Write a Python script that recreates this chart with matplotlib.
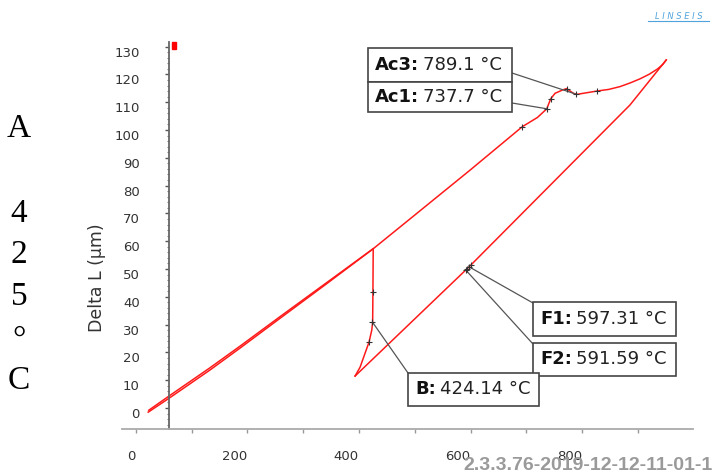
import numpy as np
import matplotlib.pyplot as plt
from matplotlib.patches import Rectangle
from matplotlib.lines import Line2D
from matplotlib.transforms import ScaledTranslation
from matplotlib.ticker import MultipleLocator, FuncFormatter

W, H = 714, 474

# dilatometer trace: temperature (°C) / delta L (µm)
heat_T = [22, 60, 133, 187, 260, 340, 425, 500, 600, 693, 720, 736.7, 743.8, 751.6, 765.3,
          772.4, 784.4, 790.5, 808.4, 826.4, 848, 868, 886, 904, 920, 935, 945, 951]
heat_L = [-1.5, 3.6, 13.7, 21.6, 32.5, 44.4, 57.2, 69.4, 85.7, 101.2, 104.5, 107.6, 111.2,
          113.2, 114.4, 114.9, 113.2, 112.8, 113.4, 114.0, 114.6, 115.6, 116.9, 118.4,
          120.0, 121.9, 123.6, 125.2]

cool_T = [951, 886, 597, 393]
cool_L = [125.2, 109.0, 50.7, 11.5]

iso_T = [393, 402, 418, 423, 424.5, 425, 425.5]
iso_L = [11.5, 14.7, 23.7, 28.1, 30.9, 41.7, 57.2]

final_T = [425.5, 340, 260, 187, 133, 60, 23]
final_L = [57.3, 44.8, 33.1, 22.3, 14.5, 4.4, -0.8]

# cursor marks along the trace
mark_T = [693, 737.7, 743.8, 772.4, 789.1, 826.4, 591.59, 594, 597.31, 600, 418, 424.14, 425]
mark_L = [101.2, 107.6, 111.2, 114.9, 112.9, 114.0, 49.6, 50.1, 50.8, 51.3, 23.7, 30.9, 41.7]

# evaluated points: (name, value text, T, L)
events = [
    ("Ac3", "789.1 °C", 789.1, 112.9),
    ("Ac1", "737.7 °C", 737.7, 107.6),
    ("F1", "597.31 °C", 597.31, 50.8),
    ("F2", "591.59 °C", 591.59, 49.6),
    ("B", "424.14 °C", 424.14, 30.9),
]
# label boxes in pixels: left, top, right, bottom, leader start x, y
boxes = {
    "Ac3": (368, 48, 512, 82, 512, 73),
    "Ac1": (368, 82, 512, 112, 512, 103),
    "F1": (533, 302, 676, 336, 533, 303),
    "F2": (533, 343, 676, 376, 533, 344),
    "B": (408, 373, 539, 406, 408, 373),
}

probe_T, probe_L = 65, 129.2

x_ticks = np.arange(0, 901, 100)
y_ticks = np.arange(0, 131, 10)
side_text = ["A", "4", "2", "5", "°", "C"]
side_base = [137, 222, 263, 305, 349, 389]


def fpos(x, y):
    return (x / W, 1 - y / H)


fig = plt.figure(figsize=(W / 100, H / 100), dpi=100)
ax = fig.add_axes([122 / W, 1 - 429 / H, (693 - 122) / W, (429 - 42) / H])

red = "#ff1a1a"
ax.plot(heat_T, heat_L, color=red, lw=1.1)
ax.plot(cool_T, cool_L, color=red, lw=1.1)
ax.plot(iso_T, iso_L, color=red, lw=1.1)
ax.plot(final_T, final_L, color=red, lw=1.1)
ax.plot(mark_T, mark_L, ls="none", marker="+", ms=5, mew=0.8, color="#333333", zorder=4)
ax.add_patch(Rectangle((probe_T, probe_L), 7, 2.5, color="red", clip_on=False, zorder=5))

ax.set_xlim(-25, 999)
ax.set_ylim(-7.55, 131.65)

for s in ["top", "right"]:
    ax.spines[s].set_visible(False)
ax.spines["left"].set_position(("data", 59))
ax.spines["left"].set_color("#666666")
ax.spines["left"].set_linewidth(1.3)
ax.spines["bottom"].set_color("#aaaaaa")
ax.spines["bottom"].set_linewidth(1.3)

ax.set_xticks(x_ticks)
ax.xaxis.set_major_formatter(FuncFormatter(lambda v, p: "%d" % v if v % 200 == 0 else ""))
ax.tick_params(axis="x", length=3, width=1, color="#999999", pad=12,
               labelsize=9.5, labelcolor="#333333")
for lab in ax.get_xticklabels():
    lab.set_ha("right")

ax.set_yticks(y_ticks)
ax.yaxis.set_minor_locator(MultipleLocator(2))
ax.tick_params(axis="y", which="major", length=3, width=1, color="#555555", pad=18,
               labelsize=9.5, labelcolor="#333333")
ax.tick_params(axis="y", which="minor", length=1.5, width=0.8, color="#777777")
shift = ScaledTranslation(0, -0.05, fig.dpi_scale_trans)
for lab in ax.get_yticklabels():
    lab.set_transform(lab.get_transform() + shift)

fig.text(*fpos(97, 278), "Delta L (µm)", rotation=90, ha="center", va="center",
         fontsize=12.5, color="#333333")

# labelled events
renderer = fig.canvas.get_renderer()
for name, value, t, l in events:
    x0, y0, x1, y1, lx, ly = boxes[name]
    ax.annotate("", xy=(t, l), xycoords="data", xytext=fpos(lx, ly),
                textcoords="figure fraction",
                arrowprops=dict(arrowstyle="-", color="#555555", lw=0.9,
                                shrinkA=0, shrinkB=0), zorder=3)
    fig.add_artist(Rectangle(fpos(x0, y1), (x1 - x0) / W, (y1 - y0) / H,
                             transform=fig.transFigure, facecolor="white",
                             edgecolor="#444444", lw=1.2, zorder=6))
    key = fig.text(*fpos(x0 + 7, (y0 + y1) / 2), name + ":", ha="left", va="center",
                   fontsize=13, fontweight="bold", color="#111111", zorder=7)
    kw = key.get_window_extent(renderer).width
    fig.text(*fpos(x0 + 7 + kw + 4, (y0 + y1) / 2), value, ha="left", va="center",
             fontsize=13, color="#222222", zorder=7)

for ch, yb in zip(side_text, side_base):
    fig.text(*fpos(19, yb), ch, ha="center", va="baseline",
             family="Liberation Serif", fontsize=24, color="black")

fig.text(*fpos(463, 470), "2.3.3.76-2019-12-12-11-01-1", ha="left", va="baseline",
         family="Liberation Sans", fontweight="bold", fontsize=14, color="#9a9a9a")

fig.text(*fpos(679, 19), "L I N S E I S", ha="center", va="baseline", fontsize=6,
         fontstyle="italic", color="#4fa3dc")
fig.add_artist(Line2D([648 / W, 709 / W], [1 - 21 / H, 1 - 21 / H],
                      transform=fig.transFigure, color="#4fa3dc", lw=0.8))

fig.savefig("out.png", dpi=100)
